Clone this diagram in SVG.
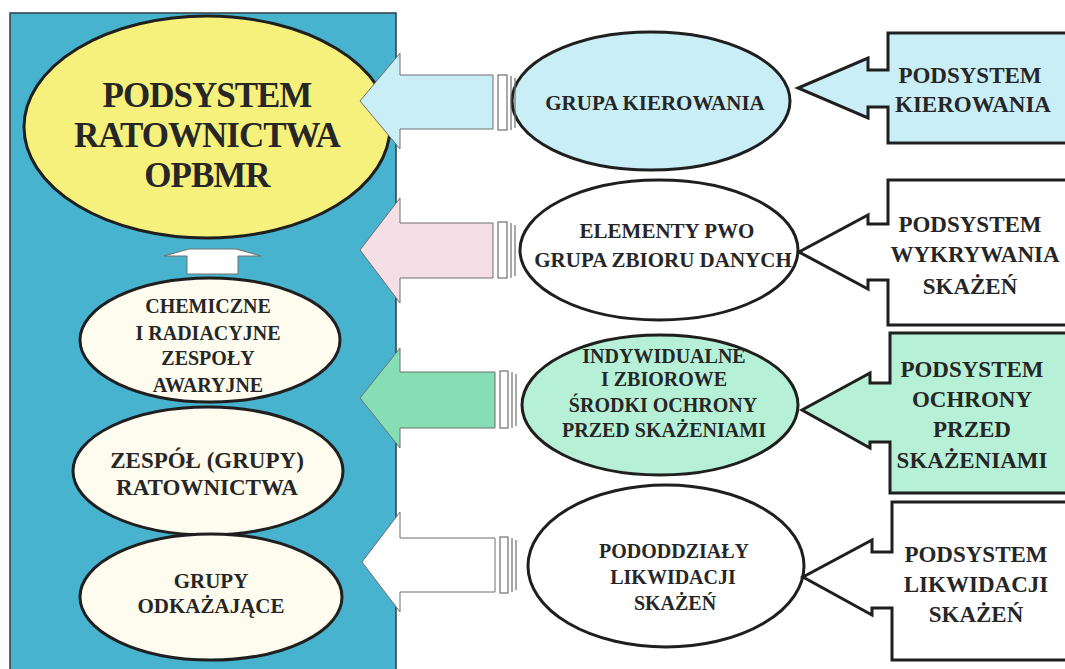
<svg xmlns="http://www.w3.org/2000/svg" width="1065" height="669" viewBox="0 0 1065 669">
  <style>
    text { font-family: "Liberation Serif", "Times New Roman", serif; font-weight: bold; fill: #262626; text-anchor: middle; }
    .node { stroke: #1f1f1f; stroke-width: 3; }
    .box { stroke: #1f1f1f; stroke-width: 3; stroke-linejoin: miter; }
    .big { stroke: #6e6e6e; stroke-width: 1; }
    .bar { fill: none; stroke: #6e6e6e; stroke-width: 1.2; }
    .t34 { font-size: 35px; letter-spacing: -1px; }
    .t23 { font-size: 23px; }
    .t21 { font-size: 21px; }
    .t20 { font-size: 20px; }
  </style>

  <rect width="1065" height="669" fill="#ffffff"/>

  <!-- left panel -->
  <g id="panel">
    <rect x="10" y="13" width="386" height="670" fill="#48b3cf" stroke="#2f3b40" stroke-width="1.5"/>
  </g>

  <!-- rescue subsystem -->
  <g id="n-opbmr">
    <ellipse class="node" cx="207" cy="127" rx="183" ry="111" fill="#f6f07c"/>
    <text class="t34" x="207" y="107">PODSYSTEM</text>
    <text class="t34" x="207" y="147">RATOWNICTWA</text>
    <text class="t34" x="207" y="187">OPBMR</text>
  </g>

  <g id="n-chemiczne">
    <ellipse class="node" cx="210" cy="340" rx="130" ry="62" fill="#fdfcee"/>
    <text class="t20" x="208" y="313">CHEMICZNE</text>
    <text class="t20" x="208" y="340">I RADIACYJNE</text>
    <text class="t20" x="208" y="365">ZESPOŁY</text>
    <text class="t20" x="208" y="392">AWARYJNE</text>
  </g>

  <g id="n-zespol">
    <ellipse class="node" cx="208" cy="471" rx="135" ry="64" fill="#fdfcee"/>
    <text class="t23" x="207" y="468">ZESPÓŁ (GRUPY)</text>
    <text class="t23" x="207" y="495">RATOWNICTWA</text>
  </g>

  <g id="n-odkazajace">
    <ellipse class="node" cx="211" cy="597" rx="131" ry="63" fill="#fdfcee"/>
    <text class="t21" x="211" y="588">GRUPY</text>
    <text class="t21" x="211" y="613">ODKAŻAJĄCE</text>
  </g>

  <!-- middle column -->
  <g id="n-kierowania">
    <ellipse class="node" cx="651" cy="101" rx="139" ry="69" fill="#c9eef6"/>
    <text class="t21" x="655" y="110">GRUPA KIEROWANIA</text>
  </g>

  <g id="n-pwo">
    <ellipse class="node" cx="659" cy="250" rx="139" ry="70" fill="#ffffff"/>
    <text class="t21" x="667" y="238">ELEMENTY PWO</text>
    <text class="t21" x="663" y="267">GRUPA ZBIORU DANYCH</text>
  </g>

  <g id="n-srodki">
    <ellipse class="node" cx="660" cy="405" rx="138" ry="70" fill="#b6f0d6"/>
    <text class="t20" x="664" y="363">INDYWIDUALNE</text>
    <text class="t20" x="664" y="386">I ZBIOROWE</text>
    <text class="t20" x="663" y="412">ŚRODKI OCHRONY</text>
    <text class="t20" x="664" y="437">PRZED SKAŻENIAMI</text>
  </g>

  <g id="n-pododdzialy">
    <ellipse class="node" cx="666" cy="566" rx="138" ry="81" fill="#ffffff"/>
    <text class="t20" x="674" y="558">PODODDZIAŁY</text>
    <text class="t20" x="673" y="584">LIKWIDACJI</text>
    <text class="t20" x="675" y="610">SKAŻEŃ</text>
  </g>

  <!-- right column: subsystems, each with its pointer -->
  <g id="s-kierowania">
    <path class="box" fill="#c9eef6" d="M1075,33 H888 V70 H868 V58 L798,88 L868,118 V107 H888 V143 H1075"/>
    <text class="t23" x="970" y="83">PODSYSTEM</text>
    <text class="t23" x="973" y="112">KIEROWANIA</text>
  </g>

  <g id="s-wykrywania">
    <path class="box" fill="#ffffff" d="M1075,180 H888 V224 H868 V215 L799,252 L868,289 V280 H888 V325 H1075"/>
    <text class="t23" x="970" y="232">PODSYSTEM</text>
    <text class="t23" x="975" y="262">WYKRYWANIA</text>
    <text class="t23" x="970" y="294">SKAŻEŃ</text>
  </g>

  <g id="s-ochrony">
    <path class="box" fill="#b6f0d6" d="M1075,333 H890 V383 H870 V373 L802,410 L870,448 V442 H890 V493 H1075"/>
    <text class="t23" x="972" y="377">PODSYSTEM</text>
    <text class="t23" x="972" y="407">OCHRONY</text>
    <text class="t23" x="972" y="437">PRZED</text>
    <text class="t23" x="972" y="468">SKAŻENIAMI</text>
  </g>

  <g id="s-likwidacji">
    <path class="box" fill="#ffffff" d="M1075,502 H892 V552 H872 V540 L803,577 L872,615 V608 H892 V660 H1075"/>
    <text class="t23" x="976" y="562">PODSYSTEM</text>
    <text class="t23" x="976" y="592">LIKWIDACJI</text>
    <text class="t23" x="976" y="622">SKAŻEŃ</text>
  </g>

  <!-- block arrows into the rescue subsystem -->
  <g id="connectors">
    <polygon class="big" fill="#ffffff" points="187,274 187,256 164,256 189,249 236,249 261,256 238,256 238,274" stroke="#2f3b40" stroke-width="1.5"/>

    <polygon class="big" fill="#c9eef6" points="360,101 400,53 400,75 493,75 493,129 400,129 400,149"/>
    <rect class="bar" x="498" y="75" width="9" height="55"/>
    <line class="bar" x1="511" y1="76" x2="511" y2="130"/>
    <line class="bar" x1="515" y1="78" x2="515" y2="128"/>

    <polygon class="big" fill="#f4dfe6" points="360,250 400,198 400,223 493,223 493,278 400,278 400,303"/>
    <rect class="bar" x="498" y="222" width="9" height="56"/>
    <line class="bar" x1="511" y1="223" x2="511" y2="278"/>
    <line class="bar" x1="515" y1="225" x2="515" y2="276"/>

    <polygon class="big" fill="#86deb5" points="360,398 400,348 400,372 495,372 495,428 400,428 400,448"/>
    <rect class="bar" x="500" y="371" width="8" height="57" fill="#b6f0d6"/>
    <line class="bar" x1="512" y1="372" x2="512" y2="428"/>
    <line class="bar" x1="516" y1="374" x2="516" y2="426"/>

    <polygon class="big" fill="#ffffff" points="362,562 400,512 400,538 495,538 495,592 400,592 400,612"/>
    <rect class="bar" x="500" y="537" width="8" height="56"/>
    <line class="bar" x1="512" y1="538" x2="512" y2="592"/>
    <line class="bar" x1="516" y1="540" x2="516" y2="590"/>
  </g>
</svg>
